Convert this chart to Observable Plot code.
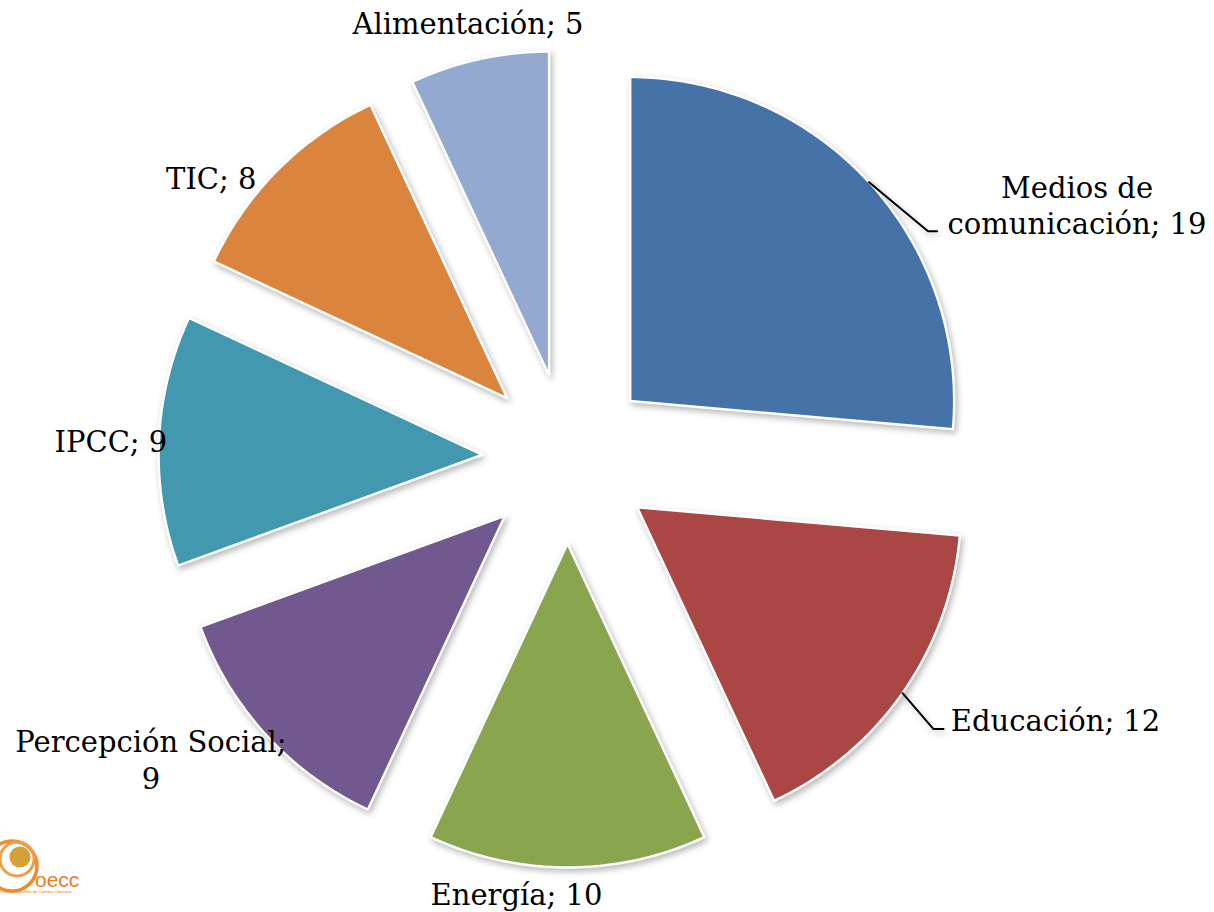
<!DOCTYPE html>
<html>
<head>
<meta charset="utf-8">
<script src="https://cdn.jsdelivr.net/npm/d3@7"></script>
<script src="https://cdn.jsdelivr.net/npm/@observablehq/plot@0.6"></script>
<style>
  html, body { margin: 0; padding: 0; background: #fff; }
  #wrap { position: relative; width: 1214px; height: 912px; overflow: hidden; }
  #chart svg g[aria-label="line"] path { filter: drop-shadow(2px 3px 3px rgba(0,0,0,0.28)); }
  #logo { position: absolute; left: 0; top: 822px; }
</style>
</head>
<body>
<div id="wrap">
  <div id="chart"></div>
  <svg id="logo" width="110" height="90" viewBox="0 0 110 90">
    <circle cx="12" cy="44" r="25" fill="none" stroke="#f08a2c" stroke-width="3.5"/>
    <circle cx="17" cy="37" r="17" fill="none" stroke="#f39a45" stroke-width="3"/>
    <circle cx="20" cy="35" r="10.5" fill="#d4a136"/>
    <text x="35" y="65" font-family="Arial, sans-serif" font-size="21" fill="#ee7d22">oecc</text>
    <text x="0" y="71" font-family="Arial, sans-serif" font-size="4.2" fill="#ee7d22">Oficina Española de Cambio Climático</text>
  </svg>
</div>
<script>
// ---- data ----
const categories = ["Medios de comunicación", "Educación", "Energía", "Percepción Social", "IPCC", "TIC", "Alimentación"];
const values = [19, 12, 10, 9, 9, 8, 5];
const labelText = ["Medios de\ncomunicación; 19", "Educación; 12", "Energía; 10", "Percepción Social;\n9", "IPCC; 9", "TIC; 8", "Alimentación; 5"];
const colors = ["#4572A7", "#AA4643", "#89A54E", "#71588F", "#4198AF", "#DB843D", "#93A9CF"];

// ---- layout ----
const W = 1214, H = 912;
const cx = 567, cy = 458, R = 324, explode = 85;
// label nudges (pixels) relative to each slice's outer arc midpoint
const labelNudge = [[208, 22], [153, 26], [-51, 26], [-115, 24], [-48, 0], [-67, 8], [-11, -37]];
const leaderSlices = [0, 1];
const leaderNudge = [[[59, 49], [68, 49]], [[31, 36], [41, 36]]];

const total = d3.sum(values);
let acc = 0;
const slices = values.map((v, i) => {
  const a0 = acc / total * 2 * Math.PI;
  acc += v;
  const a1 = acc / total * 2 * Math.PI;
  const mid = (a0 + a1) / 2;
  const vx = cx + explode * Math.sin(mid), vy = cy - explode * Math.cos(mid);
  return {i, name: categories[i], value: v, a0, a1, mid, vx, vy,
    ox: vx + R * Math.sin(mid), oy: vy - R * Math.cos(mid)};
});

const pts = [];
for (const s of slices) {
  pts.push({name: s.name, x: s.vx, y: s.vy});
  const n = Math.max(4, Math.ceil((s.a1 - s.a0) * 180 / Math.PI));
  for (let k = 0; k <= n; k++) {
    const a = s.a0 + (s.a1 - s.a0) * k / n;
    pts.push({name: s.name, x: s.vx + R * Math.sin(a), y: s.vy - R * Math.cos(a)});
  }
  pts.push({name: s.name, x: s.vx, y: s.vy});
}

const labels = slices.map(s => ({
  text: labelText[s.i],
  x: s.ox + labelNudge[s.i][0],
  y: s.oy + labelNudge[s.i][1]
}));

const leaders = [];
leaderSlices.forEach((si, j) => {
  const s = slices[si];
  leaders.push({id: si, x: s.ox, y: s.oy});
  for (const [dx, dy] of leaderNudge[j]) leaders.push({id: si, x: s.ox + dx, y: s.oy + dy});
});

const chart = Plot.plot({
  width: W, height: H,
  margin: 0,
  x: {domain: [0, W], range: [0, W], axis: null},
  y: {domain: [0, H], range: [0, H], axis: null},
  color: {domain: categories, range: colors},
  style: {background: "transparent"},
  marks: [
    Plot.line(pts, {x: "x", y: "y", z: "name", fill: "name", stroke: "white", strokeWidth: 2.5, strokeLinejoin: "round"}),
    Plot.line(leaders, {x: "x", y: "y", z: "id", stroke: "black", strokeWidth: 2}),
    Plot.text(labels, {x: "x", y: "y", text: "text", fontSize: 29, lineHeight: 1.25,
      fontFamily: "'DejaVu Serif', serif", fill: "black", textAnchor: "middle"})
  ]
});
document.getElementById("chart").appendChild(chart);
</script>
</body>
</html>
